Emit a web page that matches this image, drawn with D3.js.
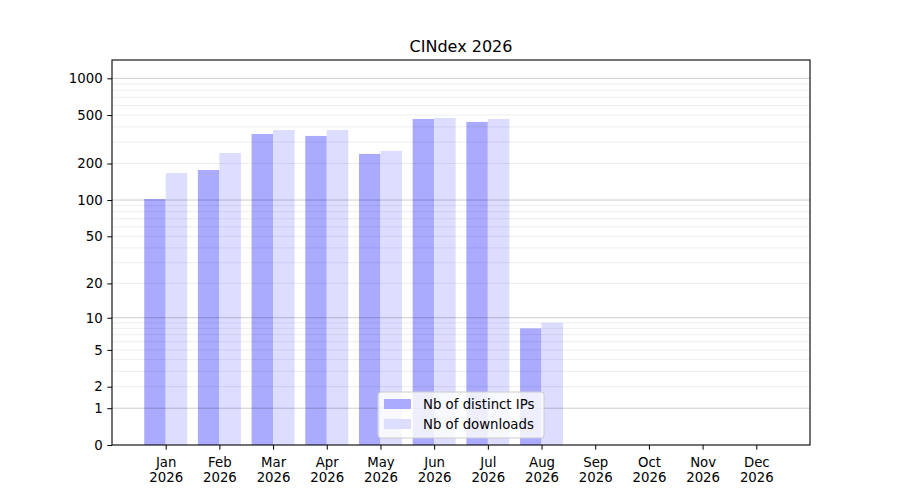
<!DOCTYPE html>
<html>
<head>
<meta charset="utf-8">
<title>CINdex 2026</title>
<script src="https://d3js.org/d3.v7.min.js"></script>
<style>
body { margin:0; background:#fff; }
svg, svg text { font-family:"DejaVu Sans",sans-serif; }
.tick text { font-size:13.3px; fill:#000; }
</style>
</head>
<body>
<svg id="chart" width="900" height="500"></svg>
<script>
// monthly counts
var months = ['Jan','Feb','Mar','Apr','May','Jun','Jul','Aug','Sep','Oct','Nov','Dec'];
var year = '2026';
var ips = [102, 177, 350, 337, 240, 464, 439, 8, 0, 0, 0, 0];
var downloads = [167, 244, 377, 377, 254, 473, 464, 9, 0, 0, 0, 0];
var yTicks = [0, 1, 2, 5, 10, 20, 50, 100, 200, 500, 1000];
var majorGrid = [1, 10, 100, 1000];
var minorGrid = [2,3,4,5,6,7,8,9, 20,30,40,50,60,70,80,90, 200,300,400,500,600,700,800,900];

var m = {l:112, r:810, t:60, b:445};
var svg = d3.select('#chart');

var x = d3.scaleLinear().domain([-1, 12]).range([m.l, m.r]);
// log10(1+v) scale == symlog with constant 1
var y = d3.scaleSymlog().constant(1).domain([0, 1413]).range([m.b, m.t]);
var bw = 0.4;

var g = svg.append('g');

g.selectAll('rect.ip').data(ips).enter().append('rect')
  .attr('x', (d,i) => x(i - bw)).attr('width', x(bw) - x(0))
  .attr('y', d => y(d)).attr('height', d => y(0) - y(d))
  .attr('fill', '#aaaaff');
g.selectAll('rect.dl').data(downloads).enter().append('rect')
  .attr('x', (d,i) => x(i)).attr('width', x(bw) - x(0))
  .attr('y', d => y(d)).attr('height', d => y(0) - y(d))
  .attr('fill', '#ddddff');

// grid drawn over the bars
g.selectAll('line.minor').data(minorGrid).enter().append('line')
  .attr('x1', m.l).attr('x2', m.r).attr('y1', d => y(d)).attr('y2', d => y(d))
  .attr('stroke', 'rgba(0,0,0,0.07)').attr('stroke-width', 1);
g.selectAll('line.major').data(majorGrid).enter().append('line')
  .attr('x1', m.l).attr('x2', m.r).attr('y1', d => y(d)).attr('y2', d => y(d))
  .attr('stroke', 'rgba(0,0,0,0.2)').attr('stroke-width', 1);

// axes
var xa = svg.append('g').attr('transform', 'translate(0,' + m.b + ')')
  .call(d3.axisBottom(x).tickValues(d3.range(12)).tickSize(4.7).tickPadding(7.5).tickFormat(i => months[i]));
xa.selectAll('.tick text').each(function(i) {
  var t = d3.select(this).text(null);
  t.append('tspan').attr('x', 0).attr('dy', '0.71em').text(months[i]);
  t.append('tspan').attr('x', 0).attr('dy', '1.15em').text(year);
});
xa.select('.domain').remove();

var ya = svg.append('g').attr('transform', 'translate(' + m.l + ',0)')
  .call(d3.axisLeft(y).tickValues(yTicks).tickSize(4.7).tickPadding(4.7).tickFormat(d3.format('d')));
ya.select('.domain').remove();

svg.append('rect').attr('x', m.l).attr('y', m.t).attr('width', m.r - m.l).attr('height', m.b - m.t)
  .attr('fill', 'none').attr('stroke', '#000').attr('stroke-width', 1.1);

svg.append('text').attr('x', (m.l + m.r) / 2).attr('y', m.t - 8)
  .attr('text-anchor', 'middle').attr('font-size', '16px').text('CINdex 2026');

// legend
var lg = svg.append('g').attr('transform', 'translate(378,392)');
lg.append('rect').attr('width', 166).attr('height', 46).attr('rx', 3)
  .attr('fill', 'rgba(255,255,255,0.8)').attr('stroke', '#cccccc');
var items = [['Nb of distinct IPs', '#aaaaff'], ['Nb of downloads', '#ddddff']];
items.forEach(function(it, i) {
  lg.append('rect').attr('x', 6).attr('y', 7 + i * 20).attr('width', 27).attr('height', 10).attr('fill', it[1]);
  lg.append('text').attr('x', 45).attr('y', 17 + i * 20).attr('font-size', '13.3px').text(it[0]);
});
</script>
</body>
</html>
